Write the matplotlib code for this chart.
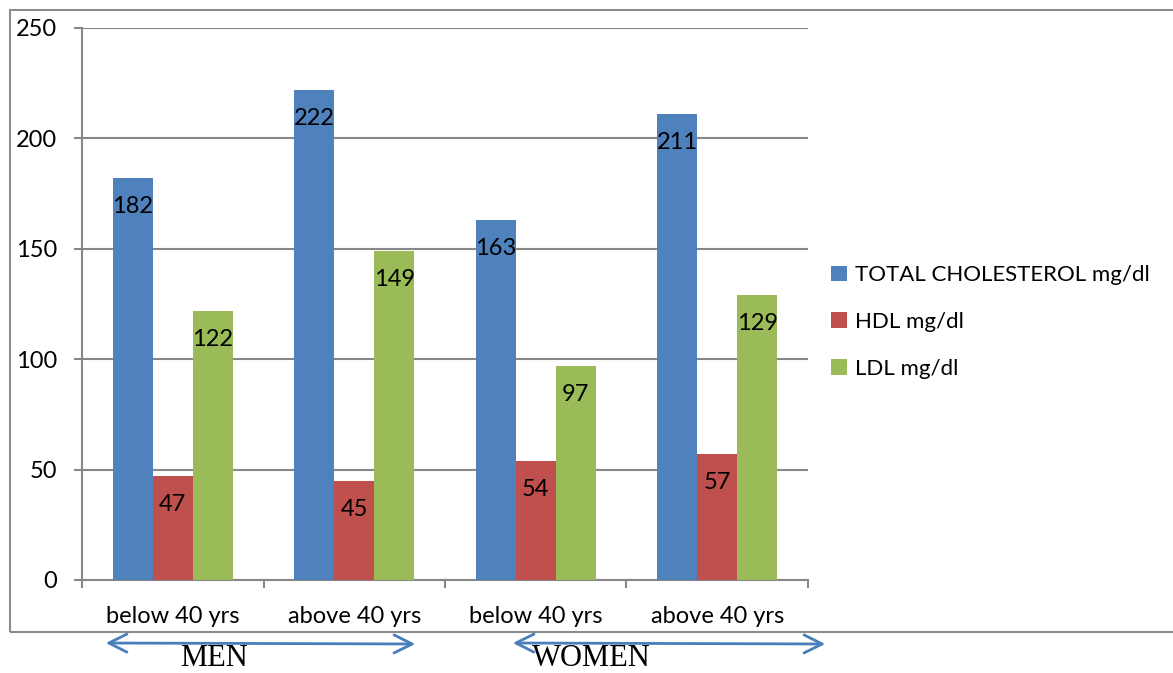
import matplotlib
matplotlib.use("Agg")
import matplotlib.pyplot as plt
from matplotlib.patches import Patch, Rectangle, FancyArrowPatch
import numpy as np

# Data
categories = ["below 40 yrs", "above 40 yrs", "below 40 yrs", "above 40 yrs"]
series_names = ["TOTAL CHOLESTEROL mg/dl", "HDL mg/dl", "LDL mg/dl"]
total_chol = [182, 222, 163, 211]
hdl = [47, 45, 54, 57]
ldl = [122, 149, 97, 129]
groups = ["MEN", "WOMEN"]
y_ticks = [0, 50, 100, 150, 200, 250]

colors = ["#4F81BD", "#C0504D", "#9BBB59"]
grid_color = "#888888"
arrow_color = "#4A7EBB"

plt.rcParams["font.family"] = ["Lato", "DejaVu Sans"]

W, H = 1173, 673
fig = plt.figure(figsize=(W / 100, H / 100), dpi=100)

# outer chart frame
fig.patches.append(Rectangle((10 / W, 1 - 632 / H), 1.2, (632 - 10) / H,
                             transform=fig.transFigure, fill=False,
                             edgecolor="#8c8c8c", linewidth=1.5, zorder=0))

ax = fig.add_axes([82 / W, 1 - 580 / H, (808 - 82) / W, (580 - 28) / H])

x = np.arange(len(categories)) + 0.5
bw = 0.22
for i, (vals, c) in enumerate(zip([total_chol, hdl, ldl], colors)):
    bars = ax.bar(x + (i - 1) * bw, vals, bw, color=c, zorder=3)
    for b, v in zip(bars, vals):
        ax.annotate(str(v), (b.get_x() + b.get_width() / 2, v),
                    xytext=(0, -20.5), textcoords="offset points",
                    ha="center", va="center", fontsize=17, color="black",
                    zorder=4)

ax.set_xlim(0, 4)
ax.set_ylim(0, 250)
ax.set_yticks(y_ticks)
ax.yaxis.grid(True, color=grid_color, linewidth=1.5, zorder=0)
ax.set_axisbelow(True)
for s in ["top", "right"]:
    ax.spines[s].set_visible(False)
for s in ["left", "bottom"]:
    ax.spines[s].set_color(grid_color)
    ax.spines[s].set_linewidth(1.5)

ax.tick_params(axis="y", length=6, width=1.5, color=grid_color,
               labelsize=17, pad=12)
ax.set_xticks(np.arange(0, 5))
ax.set_xticklabels([])
ax.set_xticks(x, minor=True)
ax.set_xticklabels(categories, minor=True)
ax.tick_params(axis="x", which="major", length=6, width=1.5, color=grid_color)
ax.tick_params(axis="x", which="minor", length=0, labelsize=17, pad=19)

handles = [Patch(facecolor=c, edgecolor="none") for c in colors]
fig.legend(handles, series_names, loc="center left",
           bbox_to_anchor=(831 / W, 1 - 322 / H), frameon=False,
           fontsize=16, handlelength=0.7, handleheight=0.7,
           handletextpad=0.4, labelspacing=1.2, borderpad=0,
           borderaxespad=0)

# group arrows beneath the category labels
arrow_spans = [(103, 418), (510, 828)]
label_x = [214, 591]
for (x0, x1), name, lx in zip(arrow_spans, groups, label_x):
    fig.add_artist(FancyArrowPatch(
        (x0 / W, 1 - 643 / H), (x1 / W, 1 - 644 / H),
        transform=fig.transFigure,
        arrowstyle="<->,head_length=1.3,head_width=0.65",
        color=arrow_color, linewidth=2, mutation_scale=10))
    fig.text(lx / W, 1 - 659 / H, name, ha="center", va="center",
             fontsize=22, family=["Liberation Serif", "DejaVu Serif"])

fig.savefig("out.png", dpi=100)
